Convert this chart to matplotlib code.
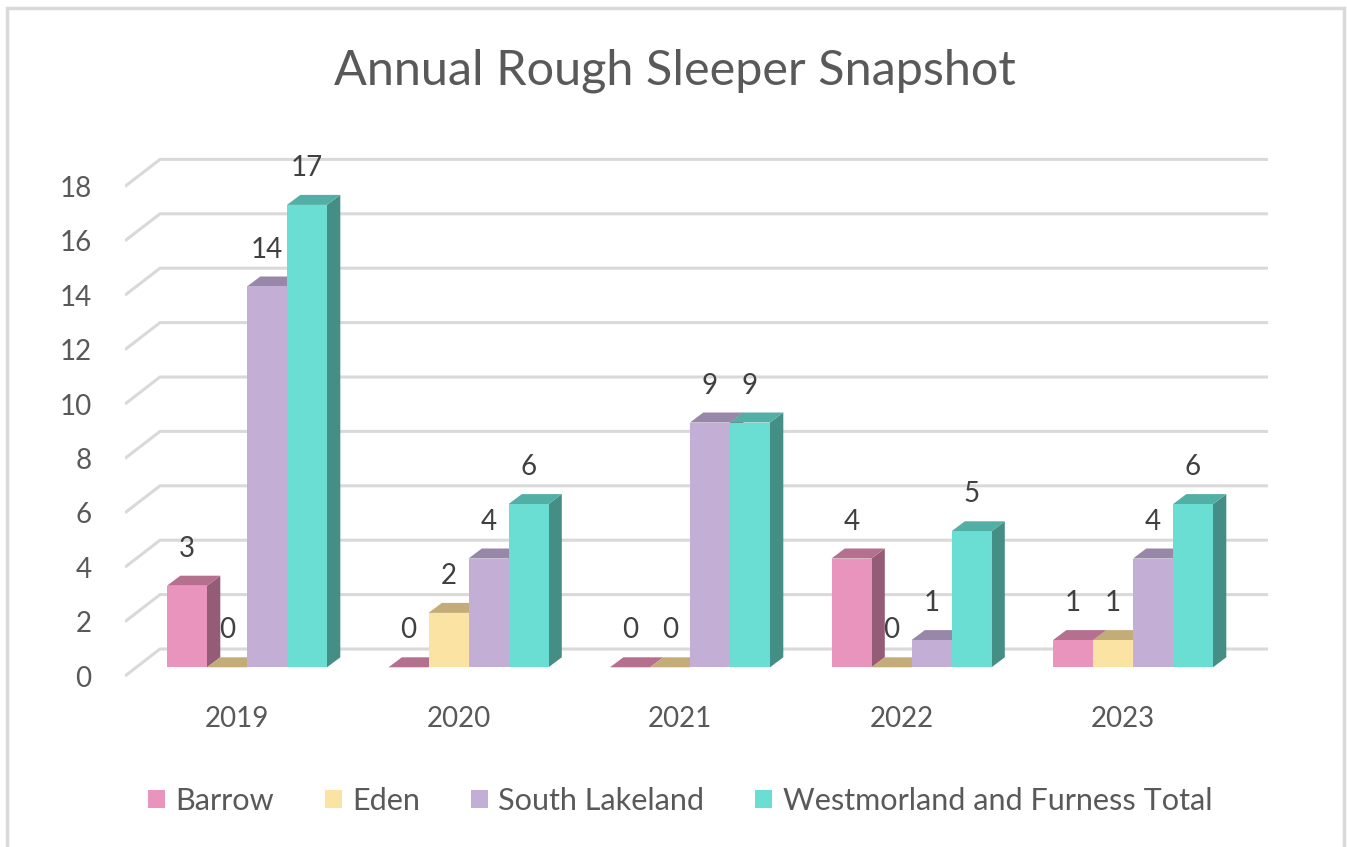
import matplotlib
matplotlib.use("Agg")
import matplotlib.pyplot as plt
from matplotlib.patches import Polygon, Rectangle

# ---- data ----
years = ["2019", "2020", "2021", "2022", "2023"]
series_names = ["Barrow", "Eden", "South Lakeland", "Westmorland and Furness Total"]
barrow = [3, 0, 0, 4, 1]
eden = [0, 2, 0, 0, 1]
south_lakeland = [14, 4, 9, 1, 4]
wf_total = [17, 6, 9, 5, 6]
y_ticks = [0, 2, 4, 6, 8, 10, 12, 14, 16, 18]

front_cols = ["#E994BC", "#FBE3A4", "#C3AFD6", "#6ADED3"]
side_cols = ["#955C77", "#A39266", "#7D6F8B", "#448E86"]
top_cols = ["#B5708F", "#C4AC78", "#9887A8", "#52AFA5"]

plt.rcParams['font.family'] = ['Lato', 'DejaVu Sans']

W, H = 1347, 847
fig = plt.figure(figsize=(W / 100, H / 100), dpi=100)

# plot area in pixels (from top-left)
left_px, right_px, top_px, bot_px = 125, 1300, 120, 700
ax = fig.add_axes([left_px / W, 1 - bot_px / H, (right_px - left_px) / W, (bot_px - top_px) / H])

px_x = 221.5   # pixels per category
px_y = 27.2    # pixels per unit
x0_px, y0_px = 247, 667.3   # first category centre, zero line of bar fronts
ax.set_xlim((left_px - x0_px) / px_x, (right_px - x0_px) / px_x)
ax.set_ylim((y0_px - bot_px) / px_y, (y0_px - top_px) / px_y)
for s in ax.spines.values():
    s.set_visible(False)

# 3d offsets
bw = 40 / px_x
ddx, ddy = 13.3 / px_x, 10 / px_y
wall_dx, wall_dy = 35 / px_x, 27 / px_y
back_shift = 18.3 / px_y
grid_x0 = (160 - x0_px) / px_x
grid_x1 = (1268 - x0_px) / px_x

# back wall gridlines with the floor diagonals
for v in y_ticks:
    yb = v + back_shift
    ax.plot([grid_x0 - wall_dx, grid_x0, grid_x1], [yb - wall_dy, yb, yb],
            color="#D9D9D9", lw=2.2, zorder=1, solid_capstyle="butt")

# bars
all_series = [barrow, eden, south_lakeland, wf_total]
for i in range(len(years)):
    for j, vals in enumerate(all_series):
        v = vals[i]
        xl = i + (j - 2) * bw
        xr = xl + bw
        z = 3 + i * 10 + j * 2
        side = Polygon([(xr, 0), (xr + ddx, ddy), (xr + ddx, v + ddy), (xr, v)],
                       closed=True, facecolor=side_cols[j], edgecolor="none", zorder=z)
        top = Polygon([(xl, v), (xr, v), (xr + ddx, v + ddy), (xl + ddx, v + ddy)],
                      closed=True, facecolor=top_cols[j], edgecolor="none", zorder=z)
        ax.add_patch(side)
        ax.add_patch(top)
        ax.bar(xl, v, width=bw, align="edge", color=front_cols[j], zorder=z + 1)
        ax.text(xl + bw / 2, v + 37 / px_y, str(v), ha="center", va="center",
                fontsize=20, color="#404040", zorder=100)

# axis labels
ax.set_yticks([v - 0.32 for v in y_ticks])
ax.set_yticklabels([str(v) for v in y_ticks])
ax.set_xticks([i - 10 / px_x for i in range(len(years))])
ax.set_xticklabels(years)
ax.tick_params(axis="both", length=0, labelsize=20, labelcolor="#595959")
ax.tick_params(axis="y", pad=24)
ax.tick_params(axis="x", pad=4)

# title
fig.text(0.5 * (335 + 1015) / W, 1 - 71 / H, "Annual Rough Sleeper Snapshot",
         ha="center", va="center", fontsize=35, color="#595959")

# legend
handles = [Rectangle((0, 0), 1, 1, facecolor=c, edgecolor="none") for c in front_cols]
leg = fig.legend(handles, series_names, loc="center", ncol=4,
                 bbox_to_anchor=(680 / W, 1 - 801 / H), frameon=False,
                 fontsize=22.1, labelcolor="#595959", handlelength=0.55,
                 handleheight=0.55, handletextpad=0.35, columnspacing=1.65)

# chart border
fig.add_artist(Rectangle((7 / W, -0.01), (1344 - 7) / W, 1.01 - 8 / H,
                         transform=fig.transFigure, fill=False,
                         edgecolor="#D9D9D9", lw=2.5))

fig.savefig("out.png", dpi=100, facecolor="white")
